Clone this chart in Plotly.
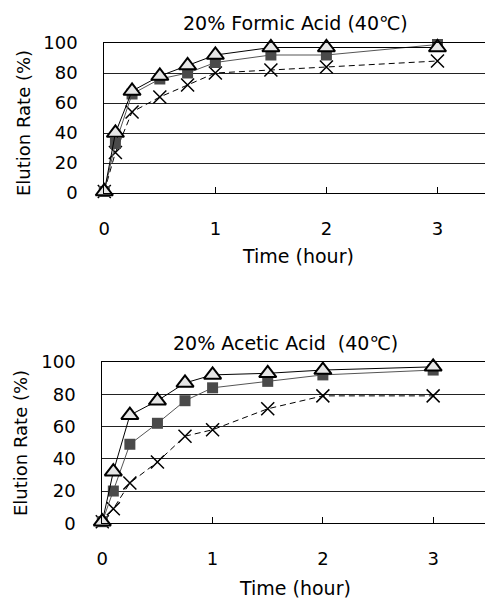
import plotly.graph_objects as go

# ---- data ----
time_h = [0, 0.1, 0.25, 0.5, 0.75, 1, 1.5, 2, 3]

formic_triangle = [1, 40, 68, 78, 85, 92, 97, 97, 97]
formic_square   = [1, 33, 66, 76, 80, 87, 92, 92, 99]
formic_cross    = [1, 27, 54, 64, 72, 80, 82, 84, 88]

acetic_triangle = [1, 32, 67, 76, 87, 92, 93, 95, 97]
acetic_square   = [1, 20, 49, 62, 76, 84, 88, 92, 95]
acetic_cross    = [1, 9, 25, 38, 54, 58, 71, 79, 79]

x_ticks = [0, 1, 2, 3]
y_ticks = [0, 20, 40, 60, 80, 100]

titles = ["20% Formic Acid (40℃)", "20% Acetic Acid\u00a0\u00a0(40℃)"]
x_title = "Time (hour)"
y_title = "Elution Rate (%)"

# page body has an 8px margin; size the figure to fit the 493x599 window
OFF = 8
W, H = 493 - OFF, 599 - OFF
FONT = "DejaVu Sans"

def px(x):
    return (x - OFF) / W

def py(y):
    return 1 - (y - OFF) / H

fig = go.Figure()

panels = [
    dict(tri=formic_triangle, sq=formic_square, cr=formic_cross,
         xd=[px(104.3), 1.0], yd=[py(193), py(43)], mirror_y=False, ax=""),
    dict(tri=acetic_triangle, sq=acetic_square, cr=acetic_cross,
         xd=[px(102.3), px(488.3)], yd=[py(523.3), py(362)], mirror_y=True, ax="2"),
]

for p in panels:
    xa = "x" + p["ax"]
    ya = "y" + p["ax"]
    fig.add_trace(go.Scatter(
        x=time_h, y=p["cr"], mode="lines+markers", xaxis=xa, yaxis=ya,
        line=dict(color="black", width=1, dash="6px,4px"),
        marker=dict(symbol="x-thin", size=13, line=dict(color="black", width=1.5)),
        cliponaxis=False, showlegend=False))
    fig.add_trace(go.Scatter(
        x=time_h, y=p["sq"], mode="lines+markers", xaxis=xa, yaxis=ya,
        line=dict(color="#555555", width=1),
        marker=dict(symbol="square", size=11, color="#4a4a4a", line=dict(width=0)),
        cliponaxis=False, showlegend=False))
    fig.add_trace(go.Scatter(
        x=time_h, y=p["tri"], mode="lines+markers", xaxis=xa, yaxis=ya,
        line=dict(color="black", width=1),
        marker=dict(symbol="triangle-up", size=15, color="#e6e6e6",
                    line=dict(color="black", width=2)),
        cliponaxis=False, showlegend=False))

    xkey = "xaxis" + p["ax"]
    ykey = "yaxis" + p["ax"]
    fig.update_layout(**{
        xkey: dict(domain=p["xd"], anchor=ya, range=[0, 3.5], automargin=False,
                   tickvals=x_ticks, ticktext=[str(v) for v in x_ticks],
                   ticks="inside", ticklen=6, tickcolor="black",
                   showgrid=False, zeroline=False,
                   showline=True, linecolor="black", linewidth=1, mirror=True,
                   ticklabelstandoff=19,
                   tickfont=dict(family=FONT, size=18, color="black")),
        ykey: dict(domain=p["yd"], anchor=xa, range=[0, 100], automargin=False,
                   tickvals=y_ticks, ticks="outside", ticklen=22,
                   tickcolor="rgba(0,0,0,0)", showgrid=True,
                   gridcolor="#222222", gridwidth=1, zeroline=False,
                   showline=True, linecolor="black", linewidth=1,
                   mirror=p["mirror_y"],
                   tickfont=dict(family=FONT, size=18, color="black")),
    })

ann = []
# chart titles
ann.append(dict(text=titles[0], x=px(295), y=py(23), size=19))
ann.append(dict(text=titles[1], x=px(285), y=py(343), size=19))
# x titles
ann.append(dict(text=x_title, x=px(298), y=py(256), size=19))
ann.append(dict(text=x_title, x=px(295), y=py(588), size=19))
# y titles
ann.append(dict(text=y_title, x=px(23), y=py(123), textangle=-90, size=18))
ann.append(dict(text=y_title, x=px(20), y=py(443), textangle=-90, size=18))

for a in ann:
    s = a.pop("size")
    a.update(xref="paper", yref="paper", showarrow=False,
             xanchor="center", yanchor="middle",
             font=dict(family=FONT, size=s, color="black"))

fig.update_layout(
    width=W, height=H, margin=dict(l=0, r=0, t=0, b=0),
    paper_bgcolor="white", plot_bgcolor="white",
    annotations=ann, showlegend=False,
)

fig.write_html("out.html")
